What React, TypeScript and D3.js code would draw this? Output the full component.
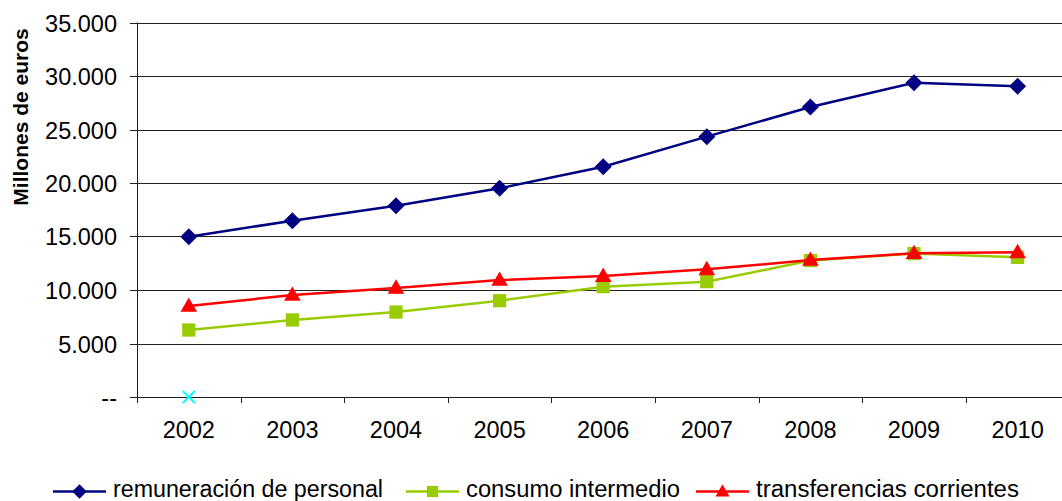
import * as React from 'react';
import { useEffect, useRef } from 'react';
import * as d3 from 'd3';

const years = ['2002', '2003', '2004', '2005', '2006', '2007', '2008', '2009', '2010'];
const remuneracion = [14980, 16480, 17880, 19500, 21520, 24330, 27100, 29370, 29040];
const consumo = [6260, 7200, 7940, 9000, 10310, 10780, 12750, 13400, 13050];
const transferencias = [8500, 9530, 10190, 10930, 11300, 11930, 12800, 13430, 13520];
const extraPoint = [0];
const yTicks = [0, 5000, 10000, 15000, 20000, 25000, 30000, 35000];
const seriesNames = ['remuneración de personal', 'consumo intermedio', 'transferencias corrientes'];

const W = 1062, H = 501;
const left = 137, right = 1069.4, top = 22.5, bottom = 397;
const FONT = 'Arial, Liberation Sans, sans-serif';

export default function App() {
  const ref = useRef<SVGSVGElement | null>(null);

  useEffect(() => {
    if (!ref.current) return;
    const svg = d3.select(ref.current);
    svg.selectAll('*').remove();

    const x = d3.scaleBand().domain(years).range([left, right]);
    const y = d3.scaleLinear().domain([0, 35000]).range([bottom, top]);
    const cx = (yr: string) => (x(yr) as number) + x.bandwidth() / 2;
    const fmt = d3.formatLocale({ decimal: ',', thousands: '.', grouping: [3], currency: ['', '€'] }).format(',d');

    // gridlines + y ticks
    const g = svg.append('g');
    yTicks.forEach(t => {
      const yy = Math.round(y(t)) + 0.5;
      g.append('line').attr('x1', left - 7).attr('x2', W).attr('y1', yy).attr('y2', yy)
        .attr('stroke', '#222').attr('stroke-width', 1);
      g.append('text').attr('x', 117).attr('y', yy).attr('dy', '0.35em')
        .attr('text-anchor', 'end').attr('font-family', FONT)
        .attr('font-size', 23.5).attr('fill', '#000')
        .text(t === 0 ? '--' : fmt(t));
    });
    // y axis line
    g.append('line').attr('x1', left + 0.5).attr('x2', left + 0.5).attr('y1', top).attr('y2', bottom + 6)
      .attr('stroke', '#222');
    // x ticks
    const edges = years.map(yr => x(yr) as number).concat([right]);
    edges.forEach(e => {
      const xx = Math.round(e) + 0.5;
      g.append('line').attr('x1', xx).attr('x2', xx).attr('y1', bottom).attr('y2', bottom + 6)
        .attr('stroke', '#222');
    });
    years.forEach(yr => {
      g.append('text').attr('x', cx(yr)).attr('y', 430).attr('dy', '0.35em')
        .attr('text-anchor', 'middle').attr('font-family', FONT)
        .attr('font-size', 23.5).attr('fill', '#000').text(yr);
    });

    // y title
    svg.append('text').attr('transform', 'translate(28,117) rotate(-90)')
      .attr('text-anchor', 'middle').attr('font-family', FONT)
      .attr('font-weight', 'bold').attr('font-size', 21).attr('fill', '#000')
      .text('Millones de euros');

    const series = [
      { name: seriesNames[0], values: remuneracion, color: '#000080', shape: 'diamond' },
      { name: seriesNames[1], values: consumo, color: '#99CC00', shape: 'square' },
      { name: seriesNames[2], values: transferencias, color: '#FF0000', shape: 'triangle' },
    ];

    const markerPath = (shape: string, scale: number) => {
      if (shape === 'diamond') return d3.symbol(d3.symbolSquare, 145 * scale * scale)();
      if (shape === 'square') return d3.symbol(d3.symbolSquare, 175 * scale * scale)();
      return d3.symbol(d3.symbolTriangle, 120 * scale * scale)();
    };
    const rot = (shape: string) => (shape === 'diamond' ? ' rotate(45)' : '');

    const line = d3.line<number>()
      .x((_, i) => cx(years[i]))
      .y(d => y(d));

    series.forEach(s => {
      svg.append('path').attr('d', line(s.values) as string)
        .attr('fill', 'none').attr('stroke', s.color).attr('stroke-width', 2.5);
      svg.selectAll(null).data(s.values).enter().append('path')
        .attr('d', markerPath(s.shape, 1) as string)
        .attr('transform', (d, i) => `translate(${cx(years[i])},${y(d) + (s.shape === 'triangle' ? 1 : 0)})${rot(s.shape)}`)
        .attr('fill', s.color);
    });

    // cyan X marker
    extraPoint.forEach((v, i) => {
      const px = cx(years[i]), py = y(v);
      svg.append('path').attr('d', `M${px - 6},${py - 6}L${px + 6},${py + 6}M${px - 6},${py + 6}L${px + 6},${py - 6}`)
        .attr('stroke', '#00FFFF').attr('stroke-width', 2).attr('fill', 'none');
    });

    // legend
    const legendItems = [
      { x0: 53, len: 270 },
      { x0: 406, len: 214 },
      { x0: 696, len: 263 },
    ];
    const ly = 491.5;
    series.forEach((s, i) => {
      const li = legendItems[i];
      const lg = svg.append('g');
      lg.append('line').attr('x1', li.x0).attr('x2', li.x0 + 53).attr('y1', ly).attr('y2', ly)
        .attr('stroke', s.color).attr('stroke-width', 2.5);
      lg.append('path').attr('d', markerPath(s.shape, 0.85) as string)
        .attr('transform', `translate(${li.x0 + 26.5},${ly + (s.shape === 'triangle' ? 1 : 0)})${rot(s.shape)}`)
        .attr('fill', s.color);
      lg.append('text').attr('x', li.x0 + 60).attr('y', 497)
        .attr('font-family', FONT).attr('font-size', 23)
        .attr('textLength', li.len).attr('lengthAdjust', 'spacingAndGlyphs')
        .attr('fill', '#000').text(s.name);
    });
  }, []);

  return (
    <div style={{ position: 'absolute', left: 0, top: 0 }}>
      <svg ref={ref} width={W} height={H} style={{ display: 'block', background: '#fff' }} />
    </div>
  );
}
